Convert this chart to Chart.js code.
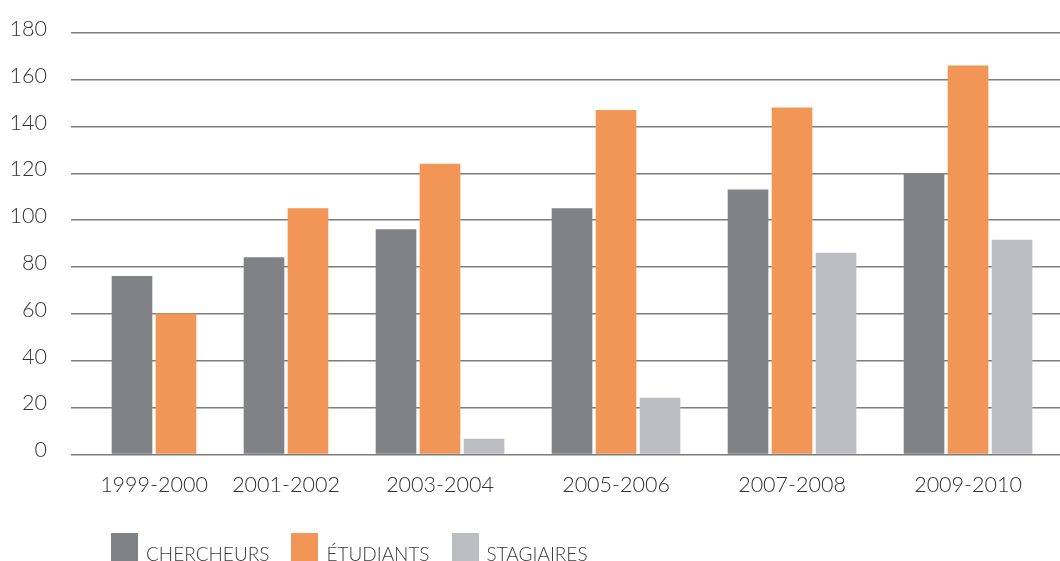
<!DOCTYPE html>
<html>
<head>
<meta charset="utf-8">
<script src="https://cdn.jsdelivr.net/npm/chart.js@4"></script>
<style>
  html, body { margin: 0; padding: 0; background: #fff; }
  body { width: 1060px; height: 561px; overflow: hidden; position: relative; }
  #wrap { position: absolute; left: 0; top: 0; width: 1060px; height: 561px; }
  #legend { position: absolute; left: 111px; top: 533px; display: flex; align-items: flex-start;
    font-family: Lato, 'Open Sans', sans-serif; font-weight: 300; font-size: 19px; color: #3a3a3a; }
  .item { display: flex; align-items: flex-start; margin-right: 22px; }
  .box { width: 27px; height: 30px; margin-right: 8px; }
  .lbl { line-height: 20px; margin-top: 11px; white-space: nowrap; }
</style>
</head>
<body>
<div id="wrap"><canvas id="c" width="1060" height="561"></canvas></div>
<div id="legend"></div>
<script>
const categories = ['1999-2000', '2001-2002', '2003-2004', '2005-2006', '2007-2008', '2009-2010'];
const seriesNames = ['CHERCHEURS', 'ÉTUDIANTS', 'STAGIAIRES'];
const chercheurs = [76, 84, 96, 105, 113, 120];
const etudiants = [60, 105, 124, 147, 148, 166];
const stagiaires = [null, null, 6.5, 24, 86, 91.5];
const yTicks = [0, 20, 40, 60, 80, 100, 120, 140, 160, 180];
const colors = ['#818286', '#F29657', '#BCBDC1'];

const series = [chercheurs, etudiants, stagiaires];

// Build slot positions: bars of each group packed side by side (missing values skipped), one empty slot between groups
const points = series.map(() => []);
const centers = [];
let slot = 0;
categories.forEach((cat, i) => {
  const start = slot;
  series.forEach((s, k) => {
    if (s[i] !== null && s[i] !== undefined) {
      points[k].push({ x: slot, y: s[i] });
      slot++;
    }
  });
  centers.push((start + slot - 1) / 2);
  slot++; // gap slot
});

const FONT = { family: "Lato, 'Open Sans', sans-serif", size: 21.5, weight: 300 };

const chart = new Chart(document.getElementById('c'), {
  type: 'bar',
  data: {
    datasets: series.map((s, k) => ({
      label: seriesNames[k],
      data: points[k],
      backgroundColor: colors[k],
      borderWidth: 0,
      grouped: false,
      barThickness: 40
    }))
  },
  options: {
    responsive: false,
    animation: false,
    layout: { padding: { top: 33, right: 0, left: 0, bottom: 0 } },
    plugins: { legend: { display: false }, tooltip: { enabled: false } },
    scales: {
      x: {
        type: 'linear',
        offset: false,
        min: -1.386,
        max: 21.09,
        grid: { display: false },
        border: { display: false },
        afterBuildTicks: (scale) => { scale.ticks = centers.map(v => ({ value: v })); },
        afterFit: (scale) => { scale.height = 106.7; scale.paddingLeft = 0; scale.paddingRight = 0; },
        ticks: {
          autoSkip: false,
          maxRotation: 0,
          padding: 10,
          color: '#333',
          font: FONT,
          callback: (v, idx) => categories[idx]
        }
      },
      y: {
        min: 0,
        max: 180,
        afterBuildTicks: (scale) => { scale.ticks = yTicks.map(v => ({ value: v })); },
        afterFit: (scale) => { scale.width = 71; scale.paddingTop = 0; scale.paddingBottom = 0; },
        grid: { color: '#7d7d7d', lineWidth: 1.6, drawTicks: false },
        border: { display: false },
        ticks: {
          padding: 24,
          labelOffset: -4,
          color: '#333',
          font: FONT,
          callback: (v) => String(v)
        }
      }
    }
  }
});

const legend = document.getElementById('legend');
seriesNames.forEach((n, k) => {
  const it = document.createElement('div');
  it.className = 'item';
  const b = document.createElement('div');
  b.className = 'box';
  b.style.background = colors[k];
  const l = document.createElement('span');
  l.className = 'lbl';
  l.textContent = n;
  it.appendChild(b); it.appendChild(l);
  legend.appendChild(it);
});
</script>
</body>
</html>
